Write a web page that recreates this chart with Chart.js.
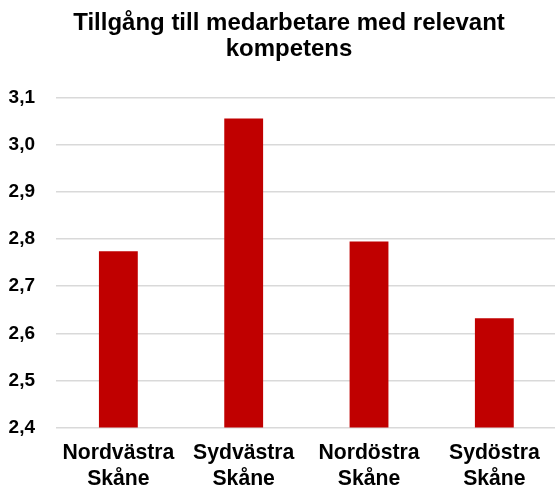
<!DOCTYPE html>
<html>
<head>
<meta charset="utf-8">
<script src="https://cdn.jsdelivr.net/npm/chart.js@4/dist/chart.umd.min.js"></script>
<style>
  html, body { margin: 0; padding: 0; background: #fff; overflow: hidden; }
  #wrap { width: 555px; height: 486px; overflow: hidden; }
  #box { width: 578px; height: 486px; }
</style>
</head>
<body>
<div id="wrap"><div id="box"><canvas id="chart"></canvas></div></div>
<script>
  // ── Data ──
  const categories = [['Nordvästra', 'Skåne'], ['Sydvästra', 'Skåne'], ['Nordöstra', 'Skåne'], ['Sydöstra', 'Skåne']];
  const values = [2.774, 3.056, 2.795, 2.632];
  const yMin = 2.4;
  const yMax = 3.1;
  const yStep = 0.1;

  const GRID = '#d9d9d9';
  const FONT = "'Liberation Sans', Arial, sans-serif";

  new Chart(document.getElementById('chart'), {
    type: 'bar',
    data: {
      labels: categories,
      datasets: [{
        data: values,
        backgroundColor: '#c00000',
        barPercentage: 0.31,
        categoryPercentage: 1,
      }],
    },
    options: {
      responsive: true,
      maintainAspectRatio: false,
      animation: false,
      layout: { padding: 0 },
      plugins: {
        legend: { display: false },
        tooltip: { enabled: false },
        title: {
          display: true,
          text: ['Tillgång till medarbetare med relevant', 'kompetens'],
          color: '#000',
          font: { family: FONT, size: 24, weight: 'bold', lineHeight: 1.1 },
          padding: { top: 10, bottom: 35 },
        },
      },
      scales: {
        x: {
          afterFit: s => { s.height = 58.5; },
          grid: { display: false },
          border: { display: false },
          ticks: {
            color: '#000',
            font: { family: FONT, size: 21.2, weight: 'bold', lineHeight: 1.21 },
            padding: 5,
            maxRotation: 0,
            autoSkip: false,
          },
        },
        y: {
          min: yMin,
          max: yMax,
          afterFit: s => { s.width = 55.7; },
          grid: { color: GRID, lineWidth: 1.5, drawTicks: false },
          border: { display: false },
          ticks: {
            stepSize: yStep,
            color: '#000',
            padding: 20.7,
            font: { family: FONT, size: 19, weight: 'bold' },
            callback: v => v.toFixed(1).replace('.', ','),
          },
        },
        // empty right-hand spacer: the original plot runs just past the crop
        spacer: {
          type: 'linear',
          position: 'right',
          afterFit: s => { s.width = 21; },
          grid: { display: false },
          border: { display: false },
          ticks: { display: false },
        },
      },
    },
  });
</script>
</body>
</html>
